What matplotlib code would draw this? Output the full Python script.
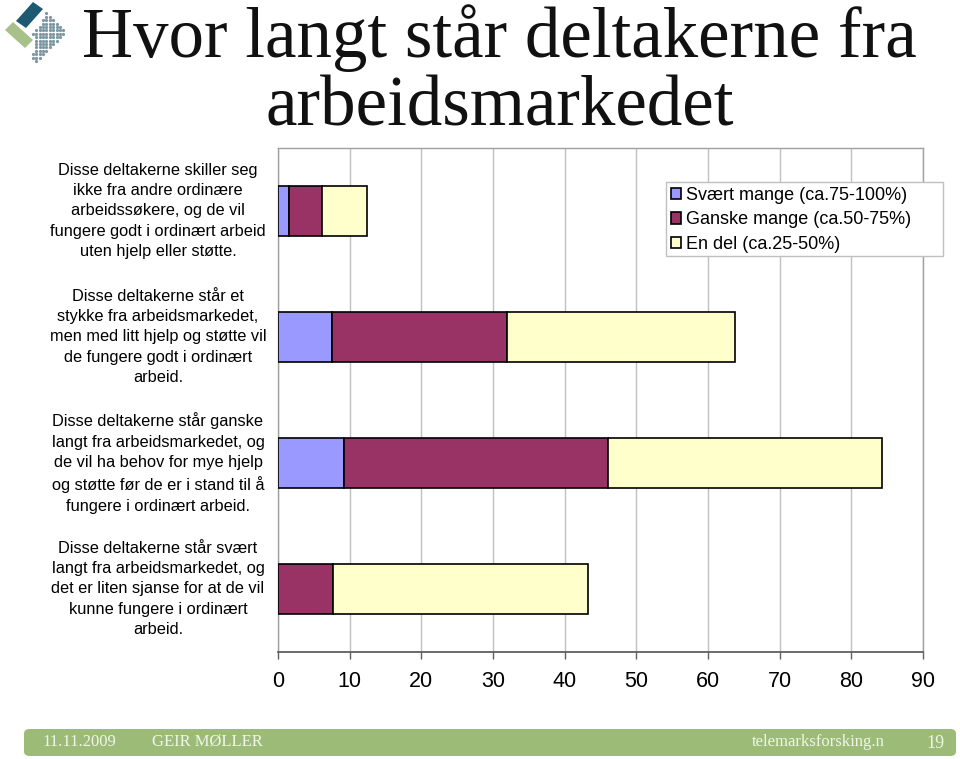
import matplotlib.pyplot as plt
import numpy as np
from matplotlib.patches import Polygon, FancyBboxPatch, Rectangle
from matplotlib.path import Path
import matplotlib.transforms as mtransforms

# ----------------------------------
# Data
# ----------------------------------
categories = [
    "Disse deltakerne skiller seg\nikke fra andre ordinære\narbeidssøkere, og de vil\nfungere godt i ordinært arbeid\nuten hjelp eller støtte.",
    "Disse deltakerne står et\nstykke fra arbeidsmarkedet,\nmen med litt hjelp og støtte vil\nde fungere godt i ordinært\narbeid.",
    "Disse deltakerne står ganske\nlangt fra arbeidsmarkedet, og\nde vil ha behov for mye hjelp\nog støtte før de er i stand til å\nfungere i ordinært arbeid.",
    "Disse deltakerne står svært\nlangt fra arbeidsmarkedet, og\ndet er liten sjanse for at de vil\nkunne fungere i ordinært\narbeid.",
]
series_names = ["Svært mange (ca.75-100%)", "Ganske mange (ca.50-75%)", "En del (ca.25-50%)"]
svaert_mange = [1.5, 7.6, 9.2, 0.0]
ganske_mange = [4.7, 24.3, 36.9, 7.7]
en_del = [6.2, 31.8, 38.2, 35.5]
x_ticks = [0, 10, 20, 30, 40, 50, 60, 70, 80, 90]

colors = ["#9999FF", "#993366", "#FFFFCC"]

W, H = 960, 759


def fx(px):
    return px / W


def fy(py):
    return 1 - py / H


fig = plt.figure(figsize=(9.6, 7.59), dpi=100)
fig.patch.set_facecolor("white")

# ----------------------------------
# Bar chart
# ----------------------------------
ax = fig.add_axes([fx(278), fy(652), fx(923) - fx(278), fy(148) - fy(652)])
y = np.arange(len(categories))
left = np.zeros(len(categories))
for vals, name, col in zip([svaert_mange, ganske_mange, en_del], series_names, colors):
    vals = np.array(vals)
    mask = vals > 0
    ax.barh(y[mask], vals[mask], left=left[mask], height=0.4, color=col,
            edgecolor="black", linewidth=1.2, label=name, zorder=3)
    left += vals

ax.set_xlim(0, 90)
ax.set_ylim(len(categories) - 0.5, -0.5)
ax.set_xticks(x_ticks)
ax.set_xticklabels([str(t) for t in x_ticks], fontsize=15.5, family="Liberation Sans")
ax.set_yticks([])
ax.tick_params(axis="x", length=5, width=1, color="#606060", pad=9)
ax.grid(axis="x", color="#c0c0c0", linewidth=1, zorder=0)
for side in ["top", "right", "left"]:
    ax.spines[side].set_color("#a0a0a0")
    ax.spines[side].set_linewidth(1)
ax.spines["bottom"].set_color("#606060")
ax.spines["bottom"].set_linewidth(1.3)

# category labels on the left
trans = mtransforms.blended_transform_factory(fig.transFigure, ax.transData)
for yi, lab in zip(y, categories):
    ax.text(fx(158), yi, lab, transform=trans, ha="center", va="center",
            multialignment="center", fontsize=11.8, family="Liberation Sans",
            linespacing=1.45)

# legend: Excel-style frame, wider than the entries
ax.add_patch(Rectangle((fx(666), fy(256)), fx(943) - fx(666), fy(182) - fy(256),
                       transform=fig.transFigure, facecolor="white", clip_on=False,
                       edgecolor="#c0c0c0", linewidth=1, zorder=5))
leg = ax.legend(loc="upper left", bbox_to_anchor=(fx(667), fy(183)),
                bbox_transform=fig.transFigure, borderaxespad=0,
                frameon=False, prop={"family": "Liberation Sans", "size": 13},
                handlelength=0.6, handleheight=0.6, handletextpad=0.25,
                borderpad=0.2, labelspacing=0.42)
leg.set_zorder(6)

# ----------------------------------
# Title
# ----------------------------------
fig.text(fx(499), fy(57), "Hvor langt står deltakerne fra", ha="center",
         va="baseline", fontsize=51, family="Liberation Serif", color="#111111")
fig.text(fx(500), fy(126), "arbeidsmarkedet", ha="center",
         va="baseline", fontsize=51, family="Liberation Serif", color="#111111")

# ----------------------------------
# Logo (top left)
# ----------------------------------
def poly_px(pts, color):
    p = Polygon([(fx(a), fy(b)) for a, b in pts], closed=True,
                transform=fig.transFigure, facecolor=color, edgecolor="none")
    fig.patches.append(p)

dot_region = Path([(47, 12), (66, 33), (36, 62), (30, 55), (36, 47), (32, 34), (40, 24)])
gx, gy = np.meshgrid(np.arange(26, 68, 3.4), np.arange(10, 64, 3.4))
pts = np.column_stack([gx.ravel(), gy.ravel()])
pts = pts[dot_region.contains_points(pts)]
fig.add_artist(plt.Line2D([fx(p) for p in pts[:, 0]], [fy(p) for p in pts[:, 1]],
                          ls="none", marker="o", ms=1.3, color="#7d98a4",
                          transform=fig.transFigure))
poly_px([(16, 21), (33, 2), (43, 9), (26, 28)], "#1d5a72")
poly_px([(5, 30), (13, 22), (33, 40), (25, 48)], "#a8c08a")

# ----------------------------------
# Footer bar
# ----------------------------------
footer = FancyBboxPatch((fx(24), fy(756)), fx(956) - fx(24), fy(729) - fy(756),
                        boxstyle="round,pad=0,rounding_size=0.006",
                        transform=fig.transFigure, facecolor="#9bbb77",
                        edgecolor="none")
fig.patches.append(footer)
foot_kw = dict(va="center", fontsize=12, family="Liberation Serif", color="#f0f5ea")
fig.text(fx(42), fy(742), "11.11.2009", ha="left", **foot_kw)
fig.text(fx(152), fy(742), "GEIR MØLLER", ha="left", **foot_kw)
fig.text(fx(752), fy(742), "telemarksforsking.n", ha="left", **foot_kw)
fig.text(fx(945), fy(743), "19", ha="right", **dict(foot_kw, fontsize=13))

fig.savefig("out.png", dpi=100)
